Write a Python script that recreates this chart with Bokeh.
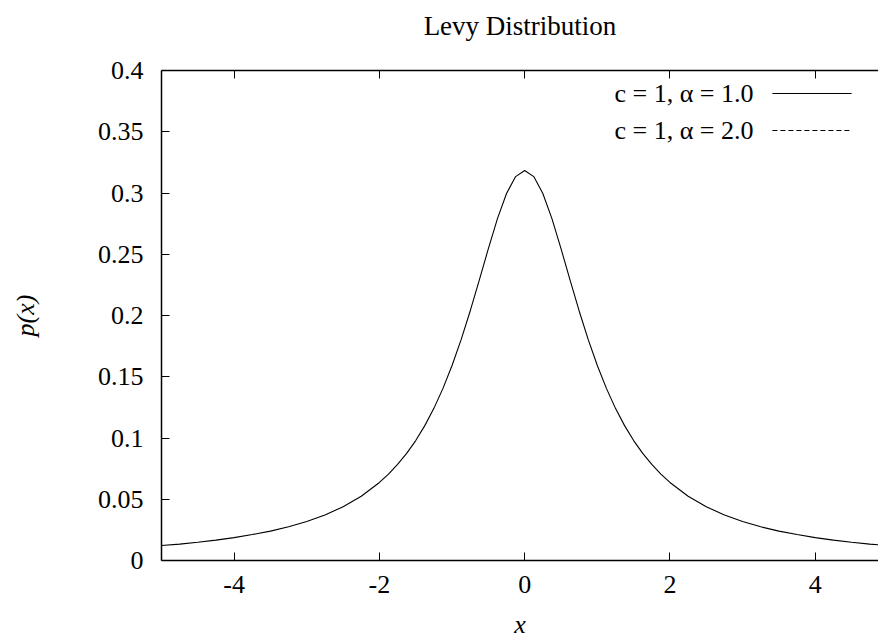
from bokeh.plotting import figure
from bokeh.models import FixedTicker, LinearAxis, Label, Arrow, Range1d, CustomLabelingPolicy
from bokeh.embed import file_html
from bokeh.resources import INLINE

# ---- data ----
x_vals = [-5.0, -4.75, -4.5, -4.25, -4.0, -3.75, -3.5, -3.25, -3.0, -2.75, -2.5,
          -2.25, -2.0, -1.875, -1.75, -1.625, -1.5, -1.375, -1.25, -1.125, -1.0,
          -0.875, -0.75, -0.625, -0.5, -0.375, -0.25, -0.125, 0.0,
          0.125, 0.25, 0.375, 0.5, 0.625, 0.75, 0.875, 1.0,
          1.125, 1.25, 1.375, 1.5, 1.625, 1.75, 1.875, 2.0, 2.25, 2.5,
          2.75, 3.0, 3.25, 3.5, 3.75, 4.0, 4.25, 4.5, 4.75, 5.0]
p_alpha1 = [0.0122, 0.0134, 0.0149, 0.0166, 0.0187, 0.0212, 0.0240, 0.0275, 0.0318, 0.0371, 0.0439,
            0.0525, 0.0637, 0.0705, 0.0784, 0.0874, 0.0979, 0.1101, 0.1242, 0.1405, 0.1592,
            0.1803, 0.2037, 0.2289, 0.2546, 0.2791, 0.2996, 0.3134, 0.3183,
            0.3134, 0.2996, 0.2791, 0.2546, 0.2289, 0.2037, 0.1803, 0.1592,
            0.1405, 0.1242, 0.1101, 0.0979, 0.0874, 0.0784, 0.0705, 0.0637, 0.0525, 0.0439,
            0.0371, 0.0318, 0.0275, 0.0240, 0.0212, 0.0187, 0.0166, 0.0149, 0.0134, 0.0122]
x_alpha2 = []   # second series is not visible in the reference
p_alpha2 = []

series_labels = ["c = 1, α = 1.0", "c = 1, α = 2.0"]
x_ticks = [-4, -2, 0, 2, 4]
x_tick_labels = ["-4", "-2", "0", "2", "4"]
y_ticks = [0, 0.05, 0.1, 0.15, 0.2, 0.25, 0.3, 0.35, 0.4]
y_tick_labels = ["0", "0.05", "0.1", "0.15", "0.2", "0.25", "0.3", "0.35", "0.4"]
title_text = "Levy Distribution"
x_label = "x"
y_label = "p(x)"

FONT = "Liberation Serif"
FS = "26px"

p = figure(width=878, height=642, output_backend="svg", toolbar_location=None,
           x_range=Range1d(-5, 4.871), y_range=Range1d(0, 0.4),
           min_border_left=161, min_border_right=0, min_border_top=70, min_border_bottom=82)
p.outline_line_color = None
p.grid.visible = False
p.background_fill_color = "white"
p.border_fill_color = "white"

def style_axis(ax):
    ax.axis_line_width = 1.5
    ax.axis_line_color = "black"
    ax.major_tick_in = 8
    ax.major_tick_out = 0
    ax.minor_tick_line_color = None
    ax.major_tick_line_width = 1
    ax.major_label_text_font = FONT
    ax.major_label_text_font_size = FS
    ax.major_label_text_color = "black"
    ax.axis_label_text_font = FONT
    ax.axis_label_text_font_size = FS
    ax.axis_label_text_font_style = "italic"
    ax.axis_label_text_color = "black"

xa = p.xaxis[0]
style_axis(xa)
xa.ticker = FixedTicker(ticks=x_ticks)
xa.major_label_overrides = dict(zip(x_ticks, x_tick_labels))
xa.major_label_standoff = 15
xa.axis_label = x_label
xa.axis_label_standoff = 14

ya = p.yaxis[0]
style_axis(ya)
ya.ticker = FixedTicker(ticks=y_ticks)
ya.major_label_overrides = dict(zip(y_ticks, y_tick_labels))
ya.major_label_standoff = 18
ya.axis_label = y_label
ya.axis_label_standoff = 55

# mirrored top border with inward ticks, no tick labels; the chart title sits above it
top = LinearAxis(ticker=FixedTicker(ticks=x_ticks))
style_axis(top)
top.major_label_policy = CustomLabelingPolicy(
    code="for (let i = 0; i < indices.size; i++) { indices.unset(i) } return indices")
top.major_label_standoff = 0
top.axis_label = title_text
top.axis_label_text_font_style = "normal"
top.axis_label_text_font_size = "27px"
top.axis_label_standoff = 10
p.add_layout(top, "above")

p.line(x_vals, p_alpha1, line_color="black", line_width=1.1)
p.line(x_alpha2, p_alpha2, line_color="black", line_width=1.1, line_dash="5 3")

# ---- key (label left, sample line right), like gnuplot ----
key_x_text = 3.15
key_x0, key_x1 = 3.41, 4.50
key_rows = [0.3812, 0.351]
dashes = ["solid", "5 3"]
for lab, yy, dash in zip(series_labels, key_rows, dashes):
    p.add_layout(Label(x=key_x_text, y=yy, text=lab, text_align="right",
                       text_baseline="middle", text_font=FONT, text_font_size=FS,
                       text_color="black"))
    p.add_layout(Arrow(end=None, x_start=key_x0, y_start=yy, x_end=key_x1, y_end=yy,
                       line_color="black", line_width=1.1, line_dash=dash))

open("out.html", "w").write(file_html(p, INLINE))
